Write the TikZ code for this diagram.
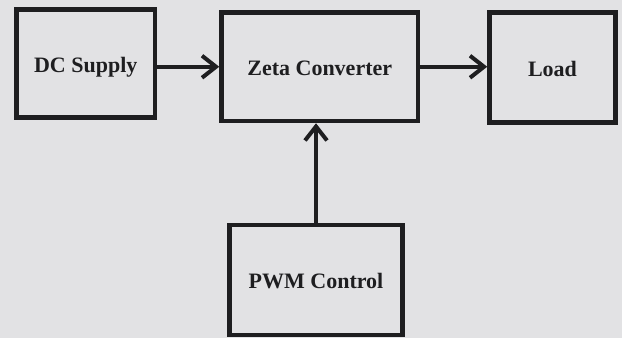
\documentclass[tikz,border=0pt]{standalone}
\usepackage{fontspec}
\newfontfamily\blockfont{Liberation Serif}[UprightFont={* Bold}]
\usepackage{xcolor}
\usepackage{tikz}
\usetikzlibrary{positioning, arrows.meta}

\definecolor{paper}{RGB}{226,226,228}
\definecolor{ink}{RGB}{30,30,32}

\begin{document}
\begin{tikzpicture}[x=1pt, y=1pt,
    block/.style={draw=ink, line width=4.5pt, fill=paper, inner sep=0pt,
        text height=20pt, text depth=2pt,
        font=\blockfont\fontsize{22}{24}\selectfont, text=ink},
    flow/.style={draw=ink, line width=4pt,
        -{Straight Barb[length=14pt, width=22pt, line width=4pt]}}]
    \fill[paper] (0,0) rectangle (622,338);
    \useasboundingbox (0,0) rectangle (622,338);

    \node[block, minimum width=138.5pt, minimum height=108pt] (dc) at (85.75,274.5) {DC Supply};
    \node[block, minimum width=196.5pt, minimum height=108.5pt] (zeta) at (319.75,271.25) {Zeta Converter};
    \node[block, minimum width=126pt, minimum height=110pt] (load) at (552.5,270.5) {Load};
    \node[block, minimum width=173pt, minimum height=109.5pt] (pwm) at (316,58) {PWM Control};

    \draw[flow] (dc.east |- zeta.west) -- (zeta.west);
    \draw[flow] (zeta.east) -- (zeta.east -| load.west);
    \draw[flow] (pwm.north) -- (pwm.north |- zeta.south);
\end{tikzpicture}
\end{document}
